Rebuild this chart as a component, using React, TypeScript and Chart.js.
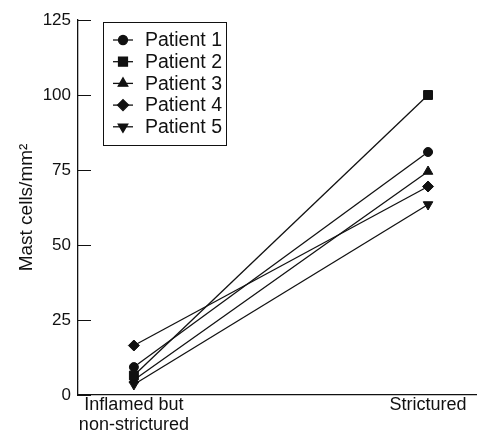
import React, { useEffect, useRef } from 'react';
import { Chart, registerables } from 'chart.js';
import { drawPoint } from 'chart.js/helpers';

Chart.register(...registerables);

// ---- data ----
const groupLabels: string[][] = [['Inflamed but', 'non-strictured'], ['Strictured']];
const groupPositions = [0, 1];
const patientNames = ['Patient 1', 'Patient 2', 'Patient 3', 'Patient 4', 'Patient 5'];
const patient1 = [9.3, 81];
const patient2 = [6.5, 100];
const patient3 = [5, 74.5];
const patient4 = [16.5, 69.5];
const patient5 = [3.5, 63.5];
const yTicks = [0, 25, 50, 75, 100, 125];
const yTitle = 'Mast cells/mm²';

const series = [patient1, patient2, patient3, patient4, patient5];
const markerStyles = ['circle', 'rect', 'triangle', 'rectRot', 'triangle'];
const markerRotations = [0, 0, 0, 0, 180];
const markerRadii = [4.5, 6.3, 5.5, 5.5, 5.5];

const FONT = "'Liberation Sans', Arial, Helvetica, sans-serif";
const INK = '#111';

const inwardTicks = {
  id: 'inwardTicks',
  afterDraw(chart: any) {
    const { ctx, chartArea } = chart;
    const y = chart.scales.y;
    ctx.save();
    ctx.strokeStyle = INK;
    ctx.lineWidth = 1;
    y.ticks.forEach((t: any) => {
      const py = Math.round(y.getPixelForValue(t.value)) + 0.5;
      ctx.beginPath();
      ctx.moveTo(chartArea.left, py);
      ctx.lineTo(chartArea.left + 13, py);
      ctx.stroke();
    });
    ctx.restore();
  },
};

const boxLegend = {
  id: 'boxLegend',
  afterDraw(chart: any) {
    const { ctx } = chart;
    const x0 = 103.5, y0 = 22.5, w = 123, h = 123;
    ctx.save();
    ctx.strokeStyle = INK;
    ctx.lineWidth = 1;
    ctx.strokeRect(x0, y0, w, h);
    ctx.font = `19.5px ${FONT}`;
    ctx.textBaseline = 'middle';
    ctx.textAlign = 'left';
    chart.data.datasets.forEach((ds: any, i: number) => {
      const cy = 40 + i * 21.7;
      ctx.strokeStyle = INK;
      ctx.lineWidth = 1.3;
      ctx.beginPath();
      ctx.moveTo(113, cy);
      ctx.lineTo(133, cy);
      ctx.stroke();
      ctx.fillStyle = INK;
      drawPoint(ctx, {
        pointStyle: ds.pointStyle,
        radius: ds.pointRadius,
        rotation: ds.pointRotation,
        borderWidth: 1,
      } as any, 123, cy);
      ctx.fillStyle = INK;
      ctx.fillText(ds.label, 145, cy + 1);
    });
    ctx.restore();
  },
};

export default function App() {
  const ref = useRef<HTMLCanvasElement | null>(null);

  useEffect(() => {
    if (!ref.current) return;
    const chart = new Chart(ref.current, {
      type: 'line',
      data: {
        datasets: series.map((vals, i) => ({
          label: patientNames[i],
          data: vals.map((v, j) => ({ x: groupPositions[j], y: v })),
          borderColor: INK,
          backgroundColor: INK,
          borderWidth: 1.3,
          pointStyle: markerStyles[i] as any,
          pointRotation: markerRotations[i],
          pointRadius: markerRadii[i],
          pointBorderWidth: 1,
          pointBackgroundColor: INK,
          pointBorderColor: INK,
          fill: false,
          tension: 0,
          clip: false as any,
        })),
      },
      options: {
        animation: false,
        responsive: true,
        maintainAspectRatio: false,
        layout: { autoPadding: false, padding: { left: 0, right: 1, top: 20, bottom: 0 } },
        plugins: {
          legend: { display: false },
          tooltip: { enabled: false },
        },
        scales: {
          x: {
            type: 'linear',
            min: -0.19,
            max: 1.163,
            afterBuildTicks: (s: any) => {
              s.ticks = groupPositions.map((v) => ({ value: v }));
            },
            afterFit: (s: any) => {
              s.height = 43;
            },
            grid: { display: false, drawTicks: false },
            border: { display: true, color: INK, width: 1.3 },
            ticks: {
              color: INK,
              font: { family: FONT, size: 18, lineHeight: 1.1 },
              padding: 0,
              maxRotation: 0,
              autoSkip: false,
              callback: (v: any) => groupLabels[groupPositions.indexOf(v)] as any,
            },
          },
          y: {
            type: 'linear',
            min: 0,
            max: 125,
            afterBuildTicks: (s: any) => {
              s.ticks = yTicks.map((v) => ({ value: v }));
            },
            afterFit: (s: any) => {
              s.width = 78;
            },
            grid: { display: false, drawTicks: false },
            border: { display: true, color: INK, width: 1.3 },
            ticks: {
              color: INK,
              font: { family: FONT, size: 17 },
              padding: 7,
            },
            title: {
              display: true,
              text: yTitle,
              color: INK,
              font: { family: FONT, size: 19 },
              padding: { top: 15, bottom: 0 },
            },
          },
        },
      },
      plugins: [inwardTicks, boxLegend],
    });
    return () => chart.destroy();
  }, []);

  return (
    <div style={{ position: 'fixed', left: 0, top: 0, width: 477, height: 438, background: '#fff' }}>
      <canvas ref={ref} />
    </div>
  );
}
